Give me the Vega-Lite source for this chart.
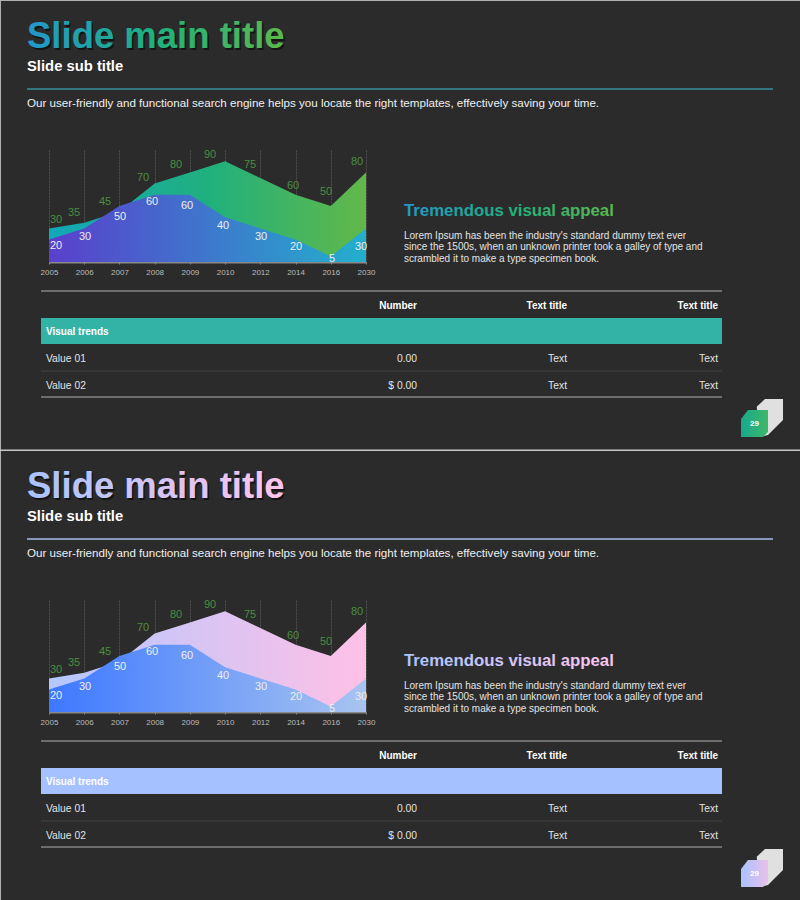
{"$schema":"https://vega.github.io/schema/vega-lite/v6.json","background":"#2b2b2b","padding":0,"spacing":0,"bounds":"flush","config":{"view":{"stroke":null},"text":{"font":"Liberation Sans"},"axis":{"labelFont":"Liberation Sans"}},
"datasets":{
"hdr":[{"col":0,"col2":1,"line":0,"text":"Slide main title"},{"col":0,"col2":1,"line":1,"text":"Slide sub title"},{"col":0,"col2":1,"line":2,"text":""},{"col":0,"col2":1,"line":3,"text":"Our user-friendly and functional search engine helps you locate the right templates, effectively saving your time."}],
"frame":[{"col":-1,"col2":-0.5,"line":-1,"line2":4},{"col":-1,"col2":2,"line":-1,"line2":-0.5}],
"series":[{"year":2005,"upper":30,"lower":20},{"year":2006,"upper":35,"lower":30},{"year":2007,"upper":45,"lower":50},{"year":2008,"upper":70,"lower":60},{"year":2009,"upper":80,"lower":60},{"year":2010,"upper":90,"lower":40},{"year":2012,"upper":75,"lower":30},{"year":2014,"upper":60,"lower":20},{"year":2016,"upper":50,"lower":5},{"year":2030,"upper":80,"lower":30}],
"side":[{"col":0,"line":0,"text":"Tremendous visual appeal"},{"col":0,"line":1,"text":"Lorem Ipsum has been the industry's standard dummy text ever"},{"col":0,"line":2,"text":"since the 1500s, when an unknown printer took a galley of type and"},{"col":0,"line":3,"text":"scrambled it to make a type specimen book."}],
"table":[{"col":2,"row":1,"text":"Number","kind":"head"},{"col":3,"row":1,"text":"Text title","kind":"head"},{"col":4,"row":1,"text":"Text title","kind":"head"},{"col":1,"row":3,"text":"Visual trends","kind":"group"},{"col":1,"row":5,"text":"Value 01","kind":"name"},{"col":2,"row":5,"text":"0.00","kind":"cell"},{"col":3,"row":5,"text":"Text","kind":"cell"},{"col":4,"row":5,"text":"Text","kind":"cell"},{"col":1,"row":7,"text":"Value 02","kind":"name"},{"col":2,"row":7,"text":"$ 0.00","kind":"cell"},{"col":3,"row":7,"text":"Text","kind":"cell"},{"col":4,"row":7,"text":"Text","kind":"cell"}],
"band":[{"col":0,"col2":5,"row":2,"row2":4}],
"lightRules":[{"col":0,"col2":5,"row":0},{"col":0,"col2":5,"row":8}],
"sepRule":[{"col":0,"col2":5,"row":6}],
"edge":[{"col":-1,"col2":8,"row":11,"row2":12}],
"badgeBack":[{"col":7,"row":9}],
"badgeFront":[{"col":6,"row":10,"text":"29"}]
},
"vconcat":[
{"width":800,"height":150,
"encoding":{"x":{"field":"col","type":"quantitative","axis":null,"scale":{"domain":[-1,-0.5,0,1,2],"range":[0,1,27,773,800],"zero":false,"nice":false}},"y":{"field":"line","type":"quantitative","axis":null,"scale":{"domain":[-1,-0.5,0,1,2,3,4],"range":[0,1,37,67,89,104,900],"zero":false,"nice":false}}},
"layer":[
{"data":{"name":"frame"},"mark":{"type":"rect","color":"#b0b0b0"},"encoding":{"x2":{"field":"col2"},"y2":{"field":"line2"}}},
{"data":{"name":"hdr"},"transform":[{"filter":"datum.line==0"}],"mark":{"type":"text","align":"left","baseline":"middle","fontSize":36.5,"fontWeight":"bold","color":"#141414","dx":1.5,"dy":1.5},"encoding":{"text":{"field":"text"}}},
{"data":{"name":"hdr"},"transform":[{"filter":"datum.line==0"}],"mark":{"type":"text","align":"left","baseline":"middle","fontSize":36.5,"fontWeight":"bold","color":{"gradient":"linear","x1":0,"x2":1,"y1":0,"y2":0,"stops":[{"offset":0,"color":"#2298cc"},{"offset":0.5,"color":"#1fb07e"},{"offset":1,"color":"#5cb84c"}]}},"encoding":{"text":{"field":"text"}}},
{"data":{"name":"hdr"},"transform":[{"filter":"datum.line==1"}],"mark":{"type":"text","align":"left","baseline":"middle","fontSize":14.8,"fontWeight":"bold","color":"#ffffff"},"encoding":{"text":{"field":"text"}}},
{"data":{"name":"hdr"},"transform":[{"filter":"datum.line==2"}],"mark":{"type":"rule","color":"#3a8f9c","strokeWidth":1.3},"encoding":{"x2":{"field":"col2"}}},
{"data":{"name":"hdr"},"transform":[{"filter":"datum.line==3"}],"mark":{"type":"text","align":"left","baseline":"middle","fontSize":11.6,"color":"#f0f0f0"},"encoding":{"text":{"field":"text"}}}
]},
{"width":800,"height":112,
"resolve":{"scale":{"x":"independent","y":"independent"},"axis":{"x":"independent","y":"independent"}},
"layer":[
{"data":{"name":"series"},"mark":{"type":"area","color":{"gradient":"linear","x1":0,"x2":1,"y1":0,"y2":0,"stops":[{"offset":0,"color":"#12a8b8"},{"offset":0.5,"color":"#20b07e"},{"offset":1,"color":"#62b848"}]}},"encoding":{"x":{"field":"year","type":"nominal","scale":{"type":"point","padding":0,"domain":[2005,2006,2007,2008,2009,2010,2012,2014,2016,2030],"range":[49,366]},"axis":{"title":null,"labelAngle":0,"labelFontSize":8,"labelColor":"#bbbbbb","labelPadding":4,"tickSize":2,"tickColor":"#888888","domainColor":"#8a8a8a","domainWidth":2,"grid":true,"gridColor":"#505050","gridDash":[2,1],"gridWidth":1}},"y":{"field":"upper","type":"quantitative","axis":null,"scale":{"domain":[0,100],"nice":false}}}},
{"data":{"name":"series"},"mark":{"type":"area","color":{"gradient":"linear","x1":0,"x2":1,"y1":0,"y2":0,"stops":[{"offset":0,"color":"#5a3fcc"},{"offset":1,"color":"#22b0cc"}]}},"encoding":{"x":{"field":"year","type":"nominal","axis":null,"scale":{"type":"point","padding":0,"domain":[2005,2006,2007,2008,2009,2010,2012,2014,2016,2030],"range":[49,366]}},"y":{"field":"lower","type":"quantitative","axis":null,"scale":{"domain":[0,100],"nice":false}}}},
{"data":{"name":"series"},"mark":{"type":"text","fontSize":11,"color":"#4a8f3f","baseline":"middle"},"encoding":{"text":{"field":"upper"},"x":{"field":"year","type":"quantitative","axis":null,"scale":{"domain":[2005,2006,2007,2008,2009,2010,2012,2014,2016,2030],"range":[56,74,105,143,176,210,250,293,326,357],"zero":false,"nice":false}},"y":{"field":"year","type":"quantitative","axis":null,"scale":{"domain":[2005,2006,2007,2008,2009,2010,2012,2014,2016,2030],"range":[70,63,52,28,15,5,15,36,42,12],"zero":false,"nice":false}}}},
{"data":{"name":"series"},"mark":{"type":"text","fontSize":11,"color":"#eeeeee","baseline":"middle"},"encoding":{"text":{"field":"lower"},"x":{"field":"year","type":"quantitative","axis":null,"scale":{"domain":[2005,2006,2007,2008,2009,2010,2012,2014,2016,2030],"range":[56,85,120,152,187,223,261,296,332,361],"zero":false,"nice":false}},"y":{"field":"year","type":"quantitative","axis":null,"scale":{"domain":[2005,2006,2007,2008,2009,2010,2012,2014,2016,2030],"range":[96,87,67,52,56,76,87,97,109,97],"zero":false,"nice":false}}}},
{"data":{"name":"side"},"transform":[{"filter":"datum.line==0"}],"mark":{"type":"text","align":"left","baseline":"middle","fontSize":16.8,"fontWeight":"bold","color":{"gradient":"linear","x1":0,"x2":1,"y1":0,"y2":0,"stops":[{"offset":0,"color":"#2298cc"},{"offset":0.5,"color":"#1fb07e"},{"offset":1,"color":"#5cb84c"}]}},"encoding":{"text":{"field":"text"},"x":{"field":"col","type":"quantitative","axis":null,"scale":{"domain":[0,1],"range":[404,800],"zero":false,"nice":false}},"y":{"field":"line","type":"quantitative","axis":null,"scale":{"domain":[0,1,2,3],"range":[61,85.5,97,108.5],"zero":false,"nice":false}}}},
{"data":{"name":"side"},"transform":[{"filter":"datum.line>0"}],"mark":{"type":"text","align":"left","baseline":"middle","fontSize":10,"color":"#e4e4e4"},"encoding":{"text":{"field":"text"},"x":{"field":"col","type":"quantitative","axis":null,"scale":{"domain":[0,1],"range":[404,800],"zero":false,"nice":false}},"y":{"field":"line","type":"quantitative","axis":null,"scale":{"domain":[0,1,2,3],"range":[61,85.5,97,108.5],"zero":false,"nice":false}}}}
]},
{"width":800,"height":188,
"encoding":{"x":{"field":"col","type":"quantitative","axis":null,"scale":{"domain":[-1,0,1,2,3,4,5,6,7,8],"range":[0,41,46,417,567,718,722,754.5,765,800],"zero":false,"nice":false}},"y":{"field":"row","type":"quantitative","axis":null,"scale":{"domain":[0,1,2,3,4,5,6,7,8,9,10,11,12],"range":[29,44,56,70,82,97,109,124,135,156,161.5,187.5,189],"zero":false,"nice":false}}},
"layer":[
{"data":{"name":"lightRules"},"mark":{"type":"rule","color":"#b0b0b0","strokeWidth":1.2},"encoding":{"x2":{"field":"col2"}}},
{"data":{"name":"sepRule"},"mark":{"type":"rule","color":"#444444","strokeWidth":1},"encoding":{"x2":{"field":"col2"}}},
{"data":{"name":"band"},"mark":{"type":"rect","color":"#33b3a6"},"encoding":{"x2":{"field":"col2"},"y2":{"field":"row2"}}},
{"data":{"name":"edge"},"mark":{"type":"rect","color":"#c8c8c8"},"encoding":{"x2":{"field":"col2"},"y2":{"field":"row2"}}},
{"data":{"name":"table"},"transform":[{"filter":"datum.kind=='head'"}],"mark":{"type":"text","align":"right","baseline":"middle","fontSize":10,"fontWeight":"bold","color":"#ffffff"},"encoding":{"text":{"field":"text"}}},
{"data":{"name":"table"},"transform":[{"filter":"datum.kind=='group'"}],"mark":{"type":"text","align":"left","baseline":"middle","fontSize":10,"fontWeight":"bold","color":"#ffffff"},"encoding":{"text":{"field":"text"}}},
{"data":{"name":"table"},"transform":[{"filter":"datum.kind=='name'"}],"mark":{"type":"text","align":"left","baseline":"middle","fontSize":10.3,"color":"#e4e4e4"},"encoding":{"text":{"field":"text"}}},
{"data":{"name":"table"},"transform":[{"filter":"datum.kind=='cell'"}],"mark":{"type":"text","align":"right","baseline":"middle","fontSize":10.3,"color":"#e4e4e4"},"encoding":{"text":{"field":"text"}}},
{"data":{"name":"badgeBack"},"mark":{"type":"point","filled":true,"opacity":1,"size":1600,"color":"#e0e0e0","shape":"M -0.415 -0.565 L 0 -0.95 L 0.9 -0.95 L 0.9 0.1 L 0.15 0.85 L -0.25 0.95 Z"}},
{"data":{"name":"badgeFront"},"mark":{"type":"point","filled":true,"opacity":1,"size":1600,"shape":"M -0.325 -0.675 L 0.675 -0.675 L 0.675 0.425 L 0.425 0.675 L -0.675 0.675 L -0.675 -0.225 Z","color":{"gradient":"linear","x1":0,"x2":1,"y1":0,"y2":0,"stops":[{"offset":0,"color":"#18a88c"},{"offset":1,"color":"#3cb868"}]}}},
{"data":{"name":"badgeFront"},"mark":{"type":"text","baseline":"middle","fontSize":8,"fontWeight":"bold","color":"#ffffff"},"encoding":{"text":{"field":"text"}}}
]},
{"width":800,"height":150,"data":{"name":"hdr"},
"encoding":{"x":{"field":"col","type":"quantitative","axis":null,"scale":{"domain":[0,1],"range":[27,773],"zero":false,"nice":false}},"y":{"field":"line","type":"quantitative","axis":null,"scale":{"domain":[0,1,2,3],"range":[37,67,89,104],"zero":false,"nice":false}}},
"layer":[
{"transform":[{"filter":"datum.line==0"}],"mark":{"type":"text","align":"left","baseline":"middle","fontSize":36.5,"fontWeight":"bold","color":"#141414","dx":1.5,"dy":1.5},"encoding":{"text":{"field":"text"}}},
{"transform":[{"filter":"datum.line==0"}],"mark":{"type":"text","align":"left","baseline":"middle","fontSize":36.5,"fontWeight":"bold","color":{"gradient":"linear","x1":0,"x2":1,"y1":0,"y2":0,"stops":[{"offset":0,"color":"#a8c4ff"},{"offset":1,"color":"#ffc4ea"}]}},"encoding":{"text":{"field":"text"}}},
{"transform":[{"filter":"datum.line==1"}],"mark":{"type":"text","align":"left","baseline":"middle","fontSize":14.8,"fontWeight":"bold","color":"#ffffff"},"encoding":{"text":{"field":"text"}}},
{"transform":[{"filter":"datum.line==2"}],"mark":{"type":"rule","color":"#a9bfee","strokeWidth":1.3},"encoding":{"x2":{"field":"col2"}}},
{"transform":[{"filter":"datum.line==3"}],"mark":{"type":"text","align":"left","baseline":"middle","fontSize":11.6,"color":"#f0f0f0"},"encoding":{"text":{"field":"text"}}}
]},
{"width":800,"height":112,
"resolve":{"scale":{"x":"independent","y":"independent"},"axis":{"x":"independent","y":"independent"}},
"layer":[
{"data":{"name":"series"},"mark":{"type":"area","color":{"gradient":"linear","x1":0,"x2":1,"y1":0,"y2":0,"stops":[{"offset":0,"color":"#b4c8ff"},{"offset":1,"color":"#ffc0e6"}]}},"encoding":{"x":{"field":"year","type":"nominal","scale":{"type":"point","padding":0,"domain":[2005,2006,2007,2008,2009,2010,2012,2014,2016,2030],"range":[49,366]},"axis":{"title":null,"labelAngle":0,"labelFontSize":8,"labelColor":"#bbbbbb","labelPadding":4,"tickSize":2,"tickColor":"#888888","domainColor":"#8a8a8a","domainWidth":2,"grid":true,"gridColor":"#505050","gridDash":[2,1],"gridWidth":1}},"y":{"field":"upper","type":"quantitative","axis":null,"scale":{"domain":[0,100],"nice":false}}}},
{"data":{"name":"series"},"mark":{"type":"area","color":{"gradient":"linear","x1":0,"x2":1,"y1":0,"y2":0,"stops":[{"offset":0,"color":"#3d78ff"},{"offset":1,"color":"#a8c4f0"}]}},"encoding":{"x":{"field":"year","type":"nominal","axis":null,"scale":{"type":"point","padding":0,"domain":[2005,2006,2007,2008,2009,2010,2012,2014,2016,2030],"range":[49,366]}},"y":{"field":"lower","type":"quantitative","axis":null,"scale":{"domain":[0,100],"nice":false}}}},
{"data":{"name":"series"},"mark":{"type":"text","fontSize":11,"color":"#4a8f3f","baseline":"middle"},"encoding":{"text":{"field":"upper"},"x":{"field":"year","type":"quantitative","axis":null,"scale":{"domain":[2005,2006,2007,2008,2009,2010,2012,2014,2016,2030],"range":[56,74,105,143,176,210,250,293,326,357],"zero":false,"nice":false}},"y":{"field":"year","type":"quantitative","axis":null,"scale":{"domain":[2005,2006,2007,2008,2009,2010,2012,2014,2016,2030],"range":[70,63,52,28,15,5,15,36,42,12],"zero":false,"nice":false}}}},
{"data":{"name":"series"},"mark":{"type":"text","fontSize":11,"color":"#eeeeee","baseline":"middle"},"encoding":{"text":{"field":"lower"},"x":{"field":"year","type":"quantitative","axis":null,"scale":{"domain":[2005,2006,2007,2008,2009,2010,2012,2014,2016,2030],"range":[56,85,120,152,187,223,261,296,332,361],"zero":false,"nice":false}},"y":{"field":"year","type":"quantitative","axis":null,"scale":{"domain":[2005,2006,2007,2008,2009,2010,2012,2014,2016,2030],"range":[96,87,67,52,56,76,87,97,109,97],"zero":false,"nice":false}}}},
{"data":{"name":"side"},"transform":[{"filter":"datum.line==0"}],"mark":{"type":"text","align":"left","baseline":"middle","fontSize":16.8,"fontWeight":"bold","color":{"gradient":"linear","x1":0,"x2":1,"y1":0,"y2":0,"stops":[{"offset":0,"color":"#a8c4ff"},{"offset":1,"color":"#ffc4ea"}]}},"encoding":{"text":{"field":"text"},"x":{"field":"col","type":"quantitative","axis":null,"scale":{"domain":[0,1],"range":[404,800],"zero":false,"nice":false}},"y":{"field":"line","type":"quantitative","axis":null,"scale":{"domain":[0,1,2,3],"range":[61,85.5,97,108.5],"zero":false,"nice":false}}}},
{"data":{"name":"side"},"transform":[{"filter":"datum.line>0"}],"mark":{"type":"text","align":"left","baseline":"middle","fontSize":10,"color":"#e4e4e4"},"encoding":{"text":{"field":"text"},"x":{"field":"col","type":"quantitative","axis":null,"scale":{"domain":[0,1],"range":[404,800],"zero":false,"nice":false}},"y":{"field":"line","type":"quantitative","axis":null,"scale":{"domain":[0,1,2,3],"range":[61,85.5,97,108.5],"zero":false,"nice":false}}}}
]},
{"width":800,"height":188,
"encoding":{"x":{"field":"col","type":"quantitative","axis":null,"scale":{"domain":[-1,0,1,2,3,4,5,6,7,8],"range":[0,41,46,417,567,718,722,754.5,765,800],"zero":false,"nice":false}},"y":{"field":"row","type":"quantitative","axis":null,"scale":{"domain":[0,1,2,3,4,5,6,7,8,9,10,11,12],"range":[29,44,56,70,82,97,109,124,135,156,161.5,187.5,189],"zero":false,"nice":false}}},
"layer":[
{"data":{"name":"lightRules"},"mark":{"type":"rule","color":"#b0b0b0","strokeWidth":1.2},"encoding":{"x2":{"field":"col2"}}},
{"data":{"name":"sepRule"},"mark":{"type":"rule","color":"#444444","strokeWidth":1},"encoding":{"x2":{"field":"col2"}}},
{"data":{"name":"band"},"mark":{"type":"rect","color":"#a6c1ff"},"encoding":{"x2":{"field":"col2"},"y2":{"field":"row2"}}},
{"data":{"name":"table"},"transform":[{"filter":"datum.kind=='head'"}],"mark":{"type":"text","align":"right","baseline":"middle","fontSize":10,"fontWeight":"bold","color":"#ffffff"},"encoding":{"text":{"field":"text"}}},
{"data":{"name":"table"},"transform":[{"filter":"datum.kind=='group'"}],"mark":{"type":"text","align":"left","baseline":"middle","fontSize":10,"fontWeight":"bold","color":"#ffffff"},"encoding":{"text":{"field":"text"}}},
{"data":{"name":"table"},"transform":[{"filter":"datum.kind=='name'"}],"mark":{"type":"text","align":"left","baseline":"middle","fontSize":10.3,"color":"#e4e4e4"},"encoding":{"text":{"field":"text"}}},
{"data":{"name":"table"},"transform":[{"filter":"datum.kind=='cell'"}],"mark":{"type":"text","align":"right","baseline":"middle","fontSize":10.3,"color":"#e4e4e4"},"encoding":{"text":{"field":"text"}}},
{"data":{"name":"badgeBack"},"mark":{"type":"point","filled":true,"opacity":1,"size":1600,"color":"#e0e0e0","shape":"M -0.415 -0.565 L 0 -0.95 L 0.9 -0.95 L 0.9 0.1 L 0.15 0.85 L -0.25 0.95 Z"}},
{"data":{"name":"badgeFront"},"mark":{"type":"point","filled":true,"opacity":1,"size":1600,"shape":"M -0.325 -0.675 L 0.675 -0.675 L 0.675 0.425 L 0.425 0.675 L -0.675 0.675 L -0.675 -0.225 Z","color":{"gradient":"linear","x1":0,"x2":1,"y1":0,"y2":0,"stops":[{"offset":0,"color":"#a9c2ff"},{"offset":1,"color":"#e8c0ea"}]}}},
{"data":{"name":"badgeFront"},"mark":{"type":"text","baseline":"middle","fontSize":8,"fontWeight":"bold","color":"#ffffff"},"encoding":{"text":{"field":"text"}}}
]}
]}
